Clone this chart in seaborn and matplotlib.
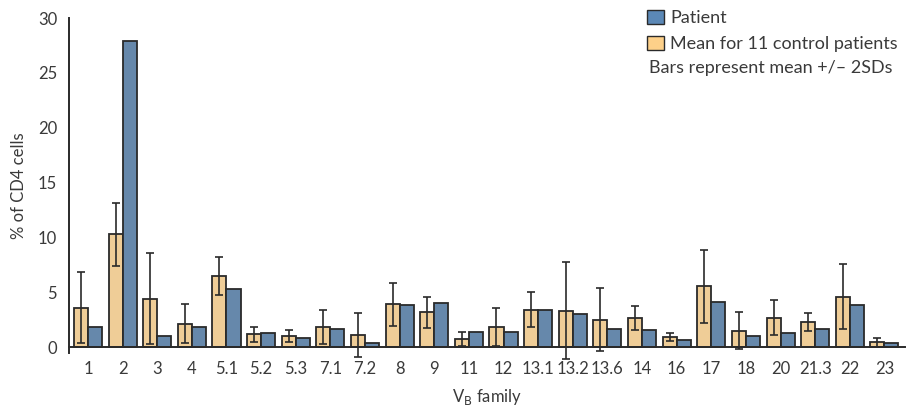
import numpy as np
import matplotlib
matplotlib.use("Agg")
import matplotlib.pyplot as plt
import pandas as pd
import seaborn as sns
from matplotlib.patches import Patch

# V-beta families on the x axis
families = ["1", "2", "3", "4", "5.1", "5.2", "5.3", "7.1", "7.2", "8", "9", "11",
            "12", "13.1", "13.2", "13.6", "14", "16", "17", "18", "20", "21.3", "22", "23"]

patient = [1.83, 27.9, 1.0, 1.83, 5.32, 1.25, 0.82, 1.64, 0.37, 3.86, 4.05, 1.37,
           1.37, 3.37, 3.0, 1.64, 1.58, 0.64, 4.14, 1.0, 1.28, 1.64, 3.86, 0.4]
control_mean = [3.6, 10.27, 4.4, 2.13, 6.5, 1.15, 0.98, 1.83, 1.1, 3.9, 3.15, 0.75,
                1.83, 3.4, 3.3, 2.5, 2.65, 0.9, 5.53, 1.5, 2.66, 2.27, 4.6, 0.42]
control_2sd = [3.2, 2.9, 4.16, 1.77, 1.75, 0.65, 0.56, 1.57, 2.0, 1.95, 1.44, 0.62,
               1.72, 1.58, 4.43, 2.85, 1.1, 0.37, 3.3, 1.67, 1.6, 0.85, 2.95, 0.42]

lab_pat = "Patient"
lab_ctrl = "Mean for 11 control patients"
c_ctrl = "#fdd089"
c_pat = "#5b88b6"
dark = "#2a2a2a"
txt = "#3a3a3a"

n = len(families)

df = pd.DataFrame({
    "family": families * 2,
    "value": control_mean + patient,
    "group": [lab_ctrl] * n + [lab_pat] * n,
})

sns.set_style("white")
plt.rcParams['font.family'] = ['Lato', 'DejaVu Sans']

fig = plt.figure(figsize=(9.07, 4.11), dpi=100)
ax = fig.add_axes([0.076, 0.141, 0.922, 0.815])

sns.barplot(data=df, x="family", y="value", hue="group", hue_order=[lab_ctrl, lab_pat],
            palette=[c_ctrl, c_pat], width=0.81, edgecolor=dark, linewidth=1.3,
            errorbar=None, legend=False, ax=ax)

# error bars on the control bars (mean +/- 2SD)
xs = [p.get_x() + p.get_width() / 2 for p in ax.containers[0]]
eb = ax.errorbar(xs, control_mean, yerr=control_2sd, fmt="none", ecolor=dark,
                 elinewidth=1.2, capsize=3.2, capthick=1.2, zorder=5)
for art in list(eb.lines[1]) + list(eb.lines[2]):
    art.set_clip_on(False)

ax.set_xlim(-0.55, 23.6)
ax.set_ylim(-0.55, 30)
ax.set_yticks([0, 5, 10, 15, 20, 25, 30])
ax.spines["top"].set_visible(False)
ax.spines["right"].set_visible(False)
ax.spines["bottom"].set_position(("data", 0))
for s in ["left", "bottom"]:
    ax.spines[s].set_color(dark)
    ax.spines[s].set_linewidth(1.4)
ax.tick_params(axis="x", length=0, pad=10, labelsize=12, colors=txt)
ax.tick_params(axis="y", length=5, width=1.2, direction="out", color=dark,
               labelsize=12, labelcolor=txt)

ax.set_ylabel("% of CD4 cells", fontsize=12, color=txt, labelpad=8)
ax.set_xlabel("V$_{\\mathrm{B}}$ family", fontsize=12, color=txt, labelpad=7)

handles = [Patch(facecolor=c_pat, edgecolor=dark, label=lab_pat),
           Patch(facecolor=c_ctrl, edgecolor=dark, label=lab_ctrl)]
leg = ax.legend(handles=handles, loc="upper right", bbox_to_anchor=(1.002, 1.052),
                frameon=False, fontsize=13, handlelength=0.95, handleheight=0.8,
                handletextpad=0.35, labelspacing=0.55, borderpad=0)
for t in leg.get_texts():
    t.set_color(txt)
fig.text(0.716, 0.823, "Bars represent mean +/\u2013 2SDs", fontsize=13, color=txt)

fig.savefig("out.png", dpi=100)
